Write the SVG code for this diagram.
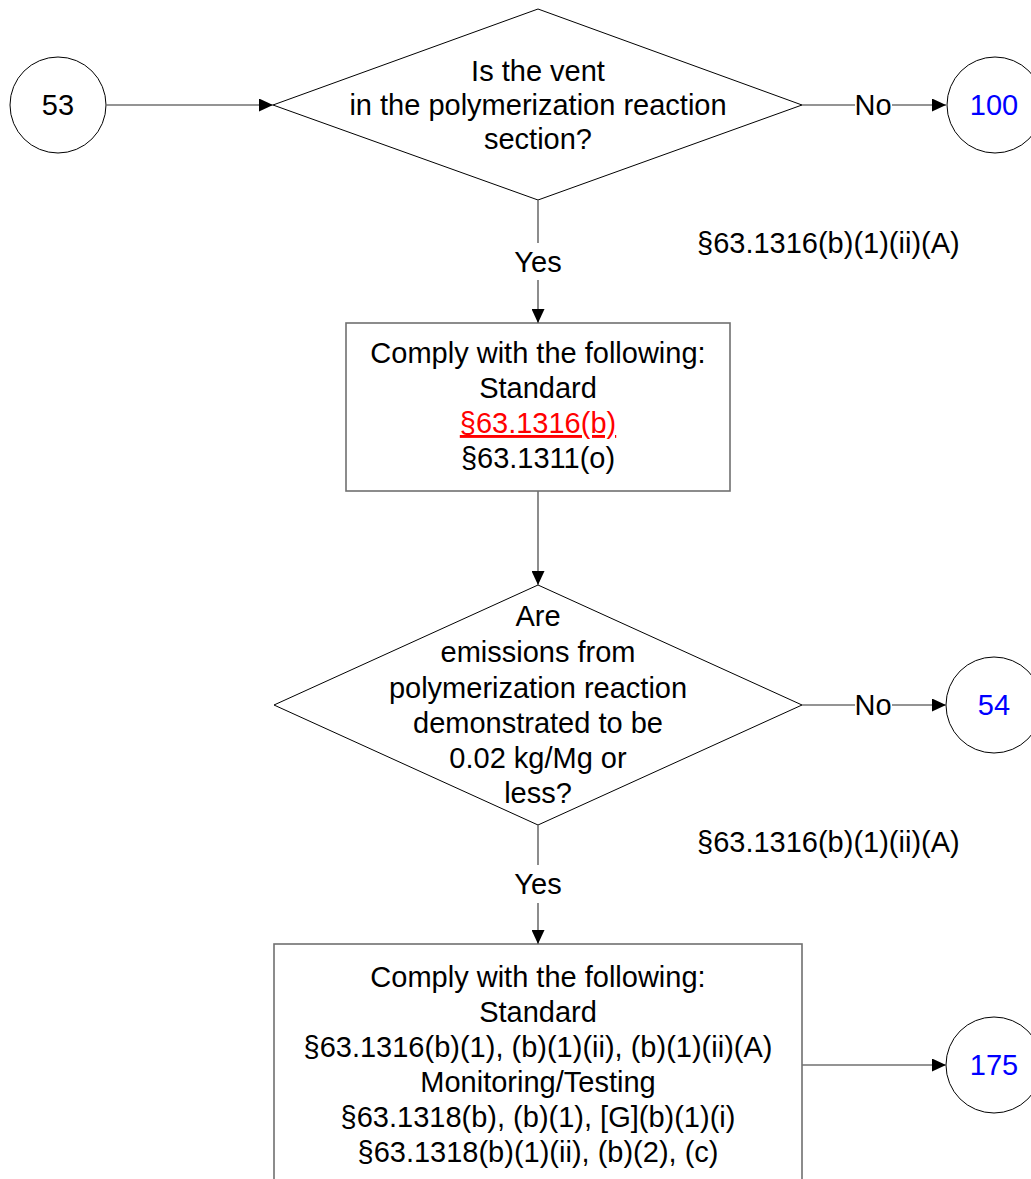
<svg xmlns="http://www.w3.org/2000/svg" width="1031" height="1179" viewBox="0 0 1031 1179">
<style>
text{font-family:"Liberation Sans",Arial,sans-serif;font-size:29px;fill:#000;text-anchor:middle}
.blue{fill:#0000ff}
.red{fill:#ff0000;text-decoration:underline}
.shape{fill:#fff;stroke:#000;stroke-width:1}
.box{fill:#fff;stroke:#707070;stroke-width:1.6}
.conn line{stroke:#707070;stroke-width:1.6}
.ref{text-anchor:start}
</style>
<defs>
<marker id="arr" markerUnits="userSpaceOnUse" markerWidth="14" markerHeight="13" refX="14" refY="6.5" orient="auto">
<path d="M0,0 L14,6.5 L0,13 z" fill="#000"/>
</marker>
</defs>
<rect width="1031" height="1179" fill="#fff"/>
<g id="c53"><circle class="shape" cx="58" cy="105" r="48"/><text x="58" y="115">53</text></g>
<g id="d1"><polygon class="shape" points="273,105 538,9 802,105 538,200"/>
<text x="538" y="81">Is the vent</text><text x="538" y="115">in the polymerization reaction</text><text x="538" y="149">section?</text></g>
<g id="c100"><circle class="shape" cx="995" cy="105" r="48"/><text class="blue" x="994" y="115">100</text></g>
<g id="ref1"><text class="ref" x="697" y="253">§63.1316(b)(1)(ii)(A)</text></g>
<g id="b1"><rect class="box" x="346" y="323" width="384" height="168"/>
<text x="538" y="363">Comply with the following:</text><text x="538" y="398">Standard</text><text class="red" x="538" y="433">§63.1316(b)</text><text x="538" y="468">§63.1311(o)</text></g>
<g id="d2"><polygon class="shape" points="274,705 538,585 802,705 538,825"/>
<text x="538" y="626">Are</text><text x="538" y="662">emissions from</text><text x="538" y="698">polymerization reaction</text><text x="538" y="733">demonstrated to be</text><text x="538" y="768">0.02 kg/Mg or</text><text x="538" y="803">less?</text></g>
<g id="c54"><circle class="shape" cx="994" cy="705" r="48"/><text class="blue" x="994" y="715">54</text></g>
<g id="ref2"><text class="ref" x="697" y="852">§63.1316(b)(1)(ii)(A)</text></g>
<g id="b2"><rect class="box" x="274" y="944" width="528" height="250"/>
<text x="538" y="987">Comply with the following:</text><text x="538" y="1022">Standard</text><text x="538" y="1057">§63.1316(b)(1), (b)(1)(ii), (b)(1)(ii)(A)</text><text x="538" y="1092">Monitoring/Testing</text><text x="538" y="1127">§63.1318(b), (b)(1), [G](b)(1)(i)</text><text x="538" y="1162">§63.1318(b)(1)(ii), (b)(2), (c)</text></g>
<g id="c175"><circle class="shape" cx="994" cy="1065" r="48"/><text class="blue" x="994" y="1075">175</text></g>
<g id="connectors" class="conn">
<line x1="106" y1="105" x2="273" y2="105" marker-end="url(#arr)"/>
<line x1="802" y1="105" x2="855" y2="105"/>
<line x1="892" y1="105" x2="946" y2="105" marker-end="url(#arr)"/>
<text x="873" y="115">No</text>
<line x1="538" y1="200" x2="538" y2="243"/>
<line x1="538" y1="280" x2="538" y2="323" marker-end="url(#arr)"/>
<text x="538" y="272">Yes</text>
<line x1="538" y1="491" x2="538" y2="585" marker-end="url(#arr)"/>
<line x1="802" y1="705" x2="855" y2="705"/>
<line x1="892" y1="705" x2="946" y2="705" marker-end="url(#arr)"/>
<text x="873" y="715">No</text>
<line x1="538" y1="825" x2="538" y2="865"/>
<line x1="538" y1="903" x2="538" y2="944" marker-end="url(#arr)"/>
<text x="538" y="894">Yes</text>
<line x1="802" y1="1065" x2="946" y2="1065" marker-end="url(#arr)"/>
</g>
</svg>
